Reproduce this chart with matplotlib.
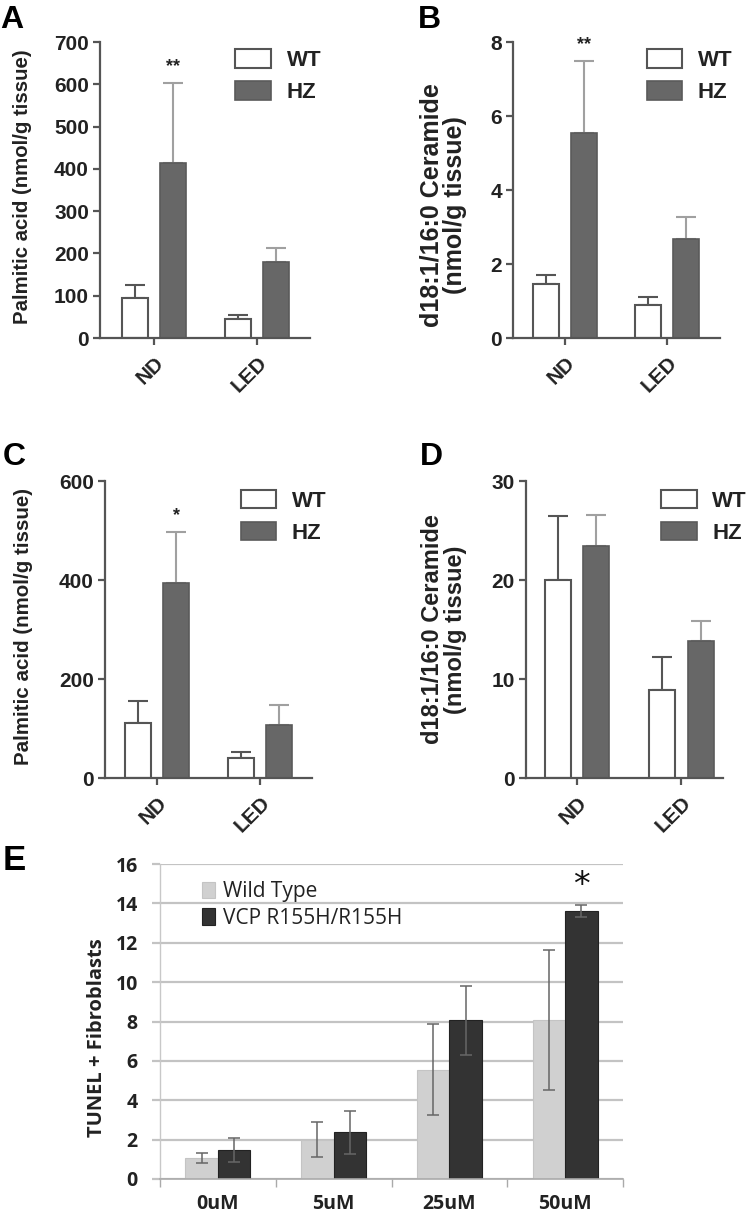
import numpy as np
import matplotlib
matplotlib.use("Agg")
import matplotlib.pyplot as plt
from matplotlib.transforms import ScaledTranslation

# panel A-D data (Prism style bars, mean + upper SD)
groups = ["ND", "LED"]

a_wt = [95, 44]
a_wt_err = [31, 10]
a_hz = [413, 180]
a_hz_err = [190, 33]

b_wt = [1.45, 0.89]
b_wt_err = [0.25, 0.22]
b_hz = [5.54, 2.67]
b_hz_err = [1.94, 0.59]

c_wt = [112, 40]
c_wt_err = [44, 12]
c_hz = [393, 108]
c_hz_err = [103, 40]

d_wt = [20.0, 8.85]
d_wt_err = [6.5, 3.35]
d_hz = [23.4, 13.85]
d_hz_err = [3.2, 2.05]

# panel E data
doses = ["0uM", "5uM", "25uM", "50uM"]
e_wt = [1.05, 2.0, 5.55, 8.07]
e_wt_err = [0.25, 0.87, 2.3, 3.55]
e_vcp = [1.47, 2.37, 8.07, 13.62]
e_vcp_err = [0.6, 1.08, 1.75, 0.3]

W, H = 755, 1217
fig = plt.figure(figsize=(W / 100, H / 100), dpi=100)

PRISM = "Liberation Sans"
EXCEL = "Open Sans"
AX = "#555555"


def place(l, t, r, b):
    return fig.add_axes([l / W, 1 - b / H, (r - l) / W, (b - t) / H])


def prism_panel(ax, wt, wt_err, hz, hz_err, ymax, yticks, xlim, ylabel,
                lab_xy, lab_size, star=None, leg_xy=(0.65, 0.97)):
    x = np.arange(len(groups))
    off, bw = 0.185, 0.25
    ax.bar(x - off, wt, bw, color="white", edgecolor=AX, linewidth=1.5, zorder=2)
    ax.bar(x + off, hz, bw, color="#676767", edgecolor="#5a5a5a", linewidth=1.2, zorder=2)
    ax.errorbar(x - off, wt, yerr=[np.zeros(len(wt)), wt_err], fmt="none",
                ecolor=AX, elinewidth=1.5, capsize=7, capthick=1.5, zorder=1)
    ax.errorbar(x + off, hz, yerr=[np.zeros(len(hz)), hz_err], fmt="none",
                ecolor="#a0a0a0", elinewidth=1.5, capsize=7, capthick=1.5, zorder=1)
    ax.set_xlim(*xlim)
    ax.set_ylim(0, ymax)
    ax.set_yticks(yticks)
    ax.set_xticks(x)
    ax.set_xticklabels(groups, rotation=45, ha="right", va="top",
                       rotation_mode="anchor", fontsize=15, fontweight="bold",
                       family=PRISM, color="#222222")
    shift = ScaledTranslation(-4 / 72, 0, fig.dpi_scale_trans)
    for lb in ax.get_xticklabels():
        lb.set_transform(lb.get_transform() + shift)
    for lb in ax.get_yticklabels():
        lb.set_fontsize(15)
        lb.set_fontweight("bold")
        lb.set_family(PRISM)
        lb.set_color("#222222")
    for s in ["top", "right"]:
        ax.spines[s].set_visible(False)
    for s in ["left", "bottom"]:
        ax.spines[s].set_color(AX)
        ax.spines[s].set_linewidth(1.6)
    ax.tick_params(axis="y", length=5, width=1.6, color=AX, pad=3)
    ax.tick_params(axis="x", length=5, width=1.6, color=AX, pad=6)
    ax.set_ylabel(ylabel, fontsize=lab_size, fontweight="bold", family=PRISM,
                  color="#222222", linespacing=1.0)
    ax.yaxis.set_label_coords(*lab_xy)
    if star:
        i = 0
        ax.annotate(star, xy=(x[i] + off, hz[i] + hz_err[i]), xytext=(0, 6),
                    textcoords="offset points", ha="center", va="bottom",
                    fontsize=13, fontweight="bold", family=PRISM, color="#222222")
    leg = ax.legend(["WT", "HZ"], loc="upper left", bbox_to_anchor=leg_xy,
                    frameon=False, borderpad=0, borderaxespad=0,
                    handlelength=1.6, handleheight=0.9, handletextpad=0.7,
                    labelspacing=0.45, prop={"family": PRISM, "weight": "bold", "size": 16})
    for t in leg.get_texts():
        t.set_color("#222222")


axA = place(100, 42, 310, 338)
prism_panel(axA, a_wt, a_wt_err, a_hz, a_hz_err, 700, range(0, 701, 100),
            (-0.52, 1.51), "Palmitic acid (nmol/g tissue)", (-0.325, 0.51), 14.7,
            star="**", leg_xy=(0.645, 0.975))

axB = place(513, 42, 720, 338)
prism_panel(axB, b_wt, b_wt_err, b_hz, b_hz_err, 8, range(0, 9, 2),
            (-0.51, 1.52), "d18:1/16:0 Ceramide\n(nmol/g tissue)", (-0.22, 0.45), 18,
            star="**", leg_xy=(0.645, 0.975))

axC = place(105, 481, 312, 778)
prism_panel(axC, c_wt, c_wt_err, c_hz, c_hz_err, 600, range(0, 601, 200),
            (-0.505, 1.505), "Palmitic acid (nmol/g tissue)", (-0.35, 0.51), 14.8,
            star="*", leg_xy=(0.655, 0.97))

axD = place(526, 481, 723, 778)
prism_panel(axD, d_wt, d_wt_err, d_hz, d_hz_err, 30, range(0, 31, 10),
            (-0.49, 1.40), "d18:1/16:0 Ceramide\n(nmol/g tissue)", (-0.30, 0.50), 17,
            leg_xy=(0.685, 0.97))

# panel E, Excel style
axE = place(160, 864, 623, 1179)
xe = np.arange(len(doses))
bw = 0.28
axE.bar(xe - bw / 2, e_wt, bw, color="#d0d0d0", edgecolor="#c4c4c4", linewidth=0.8,
        label="Wild Type", zorder=2)
axE.bar(xe + bw / 2, e_vcp, bw, color="#333333", edgecolor="#222222", linewidth=0.8,
        label="VCP R155H/R155H", zorder=2)
axE.errorbar(xe - bw / 2, e_wt, yerr=e_wt_err, fmt="none", ecolor="#666666",
             elinewidth=1.1, capsize=4, capthick=1.1, zorder=3)
axE.errorbar(xe + bw / 2, e_vcp, yerr=e_vcp_err, fmt="none", ecolor="#666666",
             elinewidth=1.1, capsize=4, capthick=1.1, zorder=3)
axE.set_xlim(-0.5, len(doses) - 0.5)
axE.set_ylim(0, 16)
axE.set_yticks(range(0, 17, 2))
axE.yaxis.grid(True, color="#c3c3c3", linewidth=1.6, zorder=0)
axE.set_axisbelow(True)
axE.set_xticks(np.arange(len(doses) + 1) - 0.5)
axE.set_xticklabels([])
axE.set_xticks(xe, minor=True)
axE.set_xticklabels(doses, minor=True, fontsize=14, fontweight="bold",
                    family=EXCEL, color="#222222")
axE.tick_params(axis="x", which="major", length=6, width=1, color="#aaaaaa")
axE.tick_params(axis="x", which="minor", length=0, pad=11)
axE.tick_params(axis="y", length=6, width=1.6, color="#c3c3c3", pad=10)
for lb in axE.get_yticklabels():
    lb.set_fontsize(14)
    lb.set_fontweight("bold")
    lb.set_family(EXCEL)
    lb.set_color("#222222")
for s in ["top", "right"]:
    axE.spines[s].set_visible(False)
axE.spines["left"].set_color("#c8c8c8")
axE.spines["left"].set_linewidth(1)
axE.spines["bottom"].set_color("#aaaaaa")
axE.spines["bottom"].set_linewidth(1.2)
axE.set_ylabel("TUNEL + Fibroblasts", fontsize=14.5, fontweight="bold", family=EXCEL,
               color="#222222")
axE.yaxis.set_label_coords(-0.114, 0.45)
axE.annotate("*", xy=(xe[3] + bw / 2, e_vcp[3] + e_vcp_err[3]), xytext=(0, 2),
             textcoords="offset points", ha="center", va="bottom", fontsize=24,
             family="DejaVu Sans", color="#111111")
legE = axE.legend(loc="upper left", bbox_to_anchor=(0.09, 0.945), frameon=False,
                  borderpad=0, borderaxespad=0, handlelength=0.65, handleheight=0.85,
                  handletextpad=0.35, labelspacing=0.25,
                  prop={"family": EXCEL, "size": 15})
for t in legE.get_texts():
    t.set_color("#222222")

# panel letters
for letter, px, py, fam, size in [("A", 0, 28, PRISM, 23), ("B", 418, 28, PRISM, 23),
                                  ("C", 3, 465, PRISM, 23), ("D", 420, 465, PRISM, 23),
                                  ("E", 3, 870, PRISM, 25)]:
    fig.text(px / W, 1 - py / H, letter, fontsize=size, fontweight="bold", family=fam,
             ha="left", va="baseline", color="black")

fig.savefig("out.png", dpi=100, facecolor="white")
